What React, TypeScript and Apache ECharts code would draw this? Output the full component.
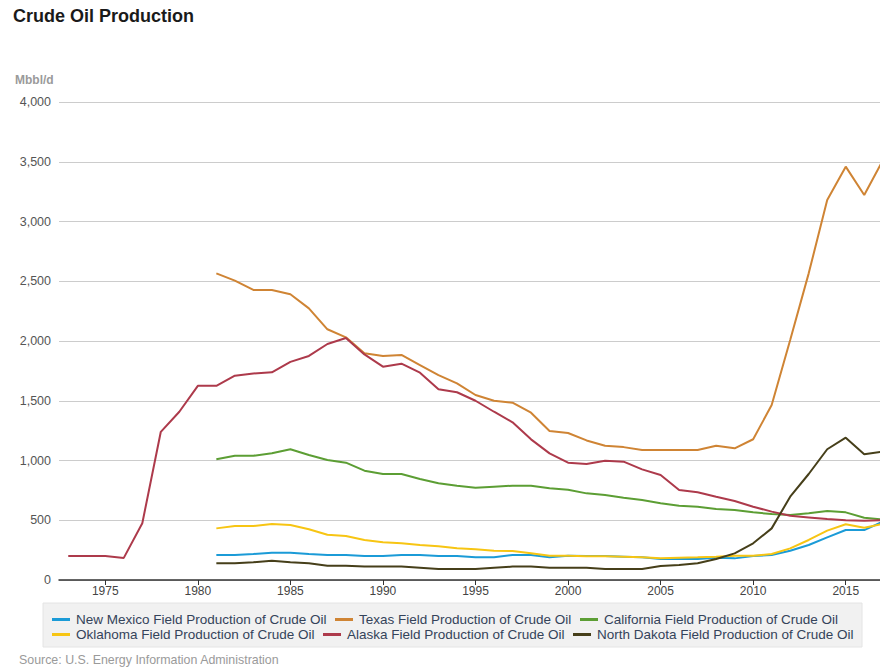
import React, { useEffect, useRef } from "react";
import * as echarts from "echarts";

const years: string[] = [];
for (let y = 1973; y <= 2017; y++) years.push(String(y));

const pad = [null, null, null, null, null, null, null, null];

const seriesNames = [
  "New Mexico Field Production of Crude Oil",
  "Texas Field Production of Crude Oil",
  "California Field Production of Crude Oil",
  "Oklahoma Field Production of Crude Oil",
  "Alaska Field Production of Crude Oil",
  "North Dakota Field Production of Crude Oil",
];

const newMexico = [...pad, 209, 209, 217, 229, 229, 217, 209, 209, 200, 200, 209, 209, 200, 200, 190, 190, 209, 209, 190, 203, 200, 200, 195, 190, 176, 176, 176, 187, 181, 200, 209, 245, 293, 357, 418, 418, 488];
const texas = [...pad, 2566, 2505, 2427, 2427, 2391, 2273, 2098, 2031, 1897, 1874, 1883, 1799, 1715, 1646, 1548, 1500, 1484, 1400, 1247, 1230, 1168, 1124, 1112, 1088, 1088, 1088, 1088, 1124, 1102, 1178, 1464, 2008, 2566, 3180, 3459, 3222, 3510];
const california = [...pad, 1010, 1040, 1040, 1060, 1094, 1046, 1004, 982, 915, 887, 887, 845, 809, 789, 772, 781, 789, 789, 767, 756, 725, 711, 689, 669, 642, 622, 613, 594, 586, 566, 552, 544, 558, 577, 566, 521, 505];
const oklahoma = [...pad, 432, 452, 452, 469, 460, 424, 379, 368, 335, 315, 307, 293, 282, 265, 257, 245, 243, 223, 203, 203, 198, 198, 195, 190, 181, 186, 190, 195, 203, 203, 217, 265, 335, 413, 466, 438, 470];
const alaska = [200, 200, 200, 185, 475, 1240, 1408, 1625, 1625, 1710, 1728, 1738, 1825, 1875, 1975, 2025, 1888, 1785, 1810, 1735, 1596, 1571, 1500, 1408, 1320, 1177, 1060, 982, 971, 998, 990, 926, 879, 753, 734, 697, 661, 613, 572, 538, 524, 510, 500, 496, 500];
const northDakota = [...pad, 140, 140, 148, 162, 148, 140, 120, 120, 112, 112, 112, 103, 92, 92, 92, 103, 112, 112, 103, 103, 103, 92, 92, 92, 117, 125, 140, 176, 223, 307, 432, 697, 887, 1094, 1191, 1052, 1074];

const seriesData = [newMexico, texas, california, oklahoma, alaska, northDakota];
const colors = ["#1b9bd7", "#cf8434", "#5c9e34", "#f7c513", "#ad3a4b", "#463f1a"];

const legendPos = [
  { left: 52, top: 612.5 },
  { left: 335, top: 612.5 },
  { left: 580, top: 612.5 },
  { left: 52, top: 627.5 },
  { left: 323, top: 627.5 },
  { left: 573, top: 627.5 },
];

const FONT = "Liberation Sans, Arial, Helvetica, sans-serif";

export default function App() {
  const ref = useRef<HTMLDivElement>(null);
  useEffect(() => {
    if (!ref.current) return;
    const chart = echarts.init(ref.current, undefined, { renderer: "svg" });
    const every5 = (_i: number, v: string) => Number(v) % 5 === 0;
    chart.setOption({
      animation: false,
      textStyle: { fontFamily: FONT },
      color: colors,
      grid: { left: 59, right: 0, top: 102, bottom: 89, containLabel: false },
      xAxis: {
        type: "category",
        data: years,
        boundaryGap: true,
        axisLine: { show: true, lineStyle: { color: "#333", width: 1.5 } },
        axisTick: { show: true, interval: every5, alignWithLabel: true, length: 5, lineStyle: { color: "#333" } },
        axisLabel: { interval: every5, color: "#444", fontSize: 12, margin: 5, fontFamily: FONT },
        splitLine: { show: false },
      },
      yAxis: {
        type: "value",
        min: 0,
        max: 4000,
        interval: 500,
        axisLine: { show: false },
        axisTick: { show: false },
        axisLabel: {
          color: "#555",
          fontSize: 12.5,
          margin: 8,
          fontFamily: FONT,
          formatter: (v: number) => v.toLocaleString("en-US"),
        },
        splitLine: { lineStyle: { color: "#cccccc", width: 1 } },
      },
      legend: seriesNames.map((n, i) => ({
        data: [n],
        left: legendPos[i].left,
        top: legendPos[i].top,
        padding: 0,
        itemGap: 0,
        itemWidth: 18,
        itemHeight: 3,
        icon: "rect",
        selectedMode: false,
        textStyle: { color: "#34435a", fontSize: 13.5, fontFamily: FONT, padding: [0, 0, 0, 1] },
      })),
      graphic: [
        {
          type: "rect",
          shape: { x: 43, y: 603, width: 819, height: 44 },
          style: { fill: "#f1f1f1", stroke: "#e4e4e4", lineWidth: 1 },
          z: -10,
        },
        {
          type: "text",
          x: 13,
          y: 16,
          style: { text: "Crude Oil Production", fontSize: 18, fontWeight: "bold", fill: "#1a1a1a", fontFamily: FONT, textVerticalAlign: "middle" },
        },
        {
          type: "text",
          x: 15,
          y: 80,
          style: { text: "Mbbl/d", fontSize: 12, fontWeight: "bold", fill: "#9a9a9a", fontFamily: FONT, textVerticalAlign: "middle" },
        },
        {
          type: "text",
          x: 19,
          y: 660,
          style: { text: "Source: U.S. Energy Information Administration", fontSize: 12.4, fill: "#9a9a9a", fontFamily: FONT, textVerticalAlign: "middle" },
        },
      ],
      series: seriesNames.map((n, i) => ({
        name: n,
        type: "line",
        data: seriesData[i],
        showSymbol: false,
        symbol: "none",
        connectNulls: false,
        lineStyle: { width: 2, color: colors[i] },
        itemStyle: { color: colors[i] },
        z: 2,
      })),
    });
    return () => chart.dispose();
  }, []);
  return (
    <div style={{ position: "fixed", left: 0, top: 0, width: 880, height: 669, overflow: "hidden", background: "#fff" }}>
      <div ref={ref} style={{ width: 892, height: 669 }} />
    </div>
  );
}
